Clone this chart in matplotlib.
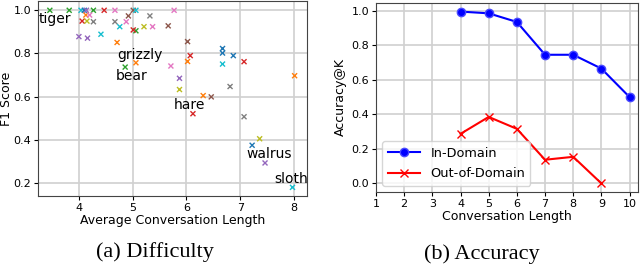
import matplotlib
matplotlib.use("Agg")
import matplotlib.pyplot as plt

# (a) difficulty: average conversation length vs F1 per animal
avg_len = [3.46, 3.82, 4.04, 4.10, 4.14, 4.27, 4.47, 4.67, 5.01, 5.06,
           4.13, 4.20, 4.06, 4.15, 4.27, 4.67, 4.88, 4.76, 4.92, 5.06,
           5.01, 5.21, 5.32, 5.37, 4.00, 4.16, 4.41, 4.71, 4.86, 5.06,
           5.77, 5.66, 6.02, 6.07, 6.02, 5.71, 5.87, 5.87, 6.67, 6.67,
           6.87, 6.67, 7.07, 8.01, 6.81, 6.31, 6.46, 6.12, 7.07, 7.36,
           7.22, 7.46, 7.97]
f1 = [1.0, 1.0, 1.0, 1.0, 1.0, 1.0, 1.0, 1.0, 1.0, 1.0,
      0.978, 0.978, 0.95, 0.95, 0.947, 0.947, 0.947, 0.924, 0.974, 0.905,
      0.909, 0.924, 0.974, 0.924, 0.878, 0.871, 0.889, 0.851, 0.737, 0.757,
      1.0, 0.928, 0.855, 0.79, 0.763, 0.742, 0.685, 0.633, 0.823, 0.802,
      0.79, 0.751, 0.762, 0.697, 0.647, 0.605, 0.599, 0.521, 0.507, 0.405,
      0.375, 0.293, 0.18]
point_colors = ["C2", "C2", "C9", "C0", "C4", "C2", "C3", "C6", "C5", "C9",
                "C1", "C6", "C3", "C8", "C7", "C7", "C6", "C9", "C5", "C2",
                "C3", "C8", "C7", "C6", "C4", "C4", "C9", "C1", "C2", "C1",
                "C6", "C5", "C5", "C3", "C1", "C6", "C4", "C8", "C0", "C0",
                "C0", "C9", "C3", "C1", "C7", "C1", "C5", "C3", "C7", "C8",
                "C0", "C4", "C9"]

animal_names = ["tiger", "grizzly", "bear", "hare", "walrus", "sloth"]
animal_x = [3.26, 4.71, 4.69, 5.77, 7.12, 7.63]
animal_y = [0.96, 0.794, 0.697, 0.563, 0.336, 0.218]

# (b) accuracy vs conversation length
conv_len = [4, 5, 6, 7, 8, 9, 10]
in_domain = [0.995, 0.985, 0.935, 0.745, 0.745, 0.665, 0.50]
out_len = [4, 5, 6, 7, 8, 9]
out_domain = [0.287, 0.385, 0.316, 0.137, 0.154, 0.0]

fig = plt.figure(figsize=(6.4, 2.67), dpi=100)
ax1 = fig.add_axes([38/640, 1 - 196/267, (307-38)/640, (196-1)/267])
ax2 = fig.add_axes([376/640, 1 - 192/267, (638-376)/640, (192-3)/267])

grid_kw = dict(color="#d0d0d0", linewidth=1.2)

ax1.scatter(avg_len, f1, c=point_colors, marker="x", s=13, linewidths=1.0, zorder=3)
for name, x, y in zip(animal_names, animal_x, animal_y):
    ax1.text(x, y, name, fontsize=10, va="center", ha="left", zorder=4)
ax1.set_xlim(3.24, 8.24)
ax1.set_ylim(0.14, 1.043)
ax1.set_xticks([4, 5, 6, 7, 8])
ax1.set_yticks([0.2, 0.4, 0.6, 0.8, 1.0])
ax1.grid(True, **grid_kw)
ax1.set_axisbelow(True)
ax1.set_xlabel("Average Conversation Length", fontsize=9, labelpad=1)
ax1.set_ylabel("F1 Score", fontsize=9)
ax1.yaxis.set_label_coords(-0.092, 0.5)
ax1.tick_params(labelsize=8, length=3, pad=2)

ax2.plot(conv_len, in_domain, color="blue", marker="o", markersize=6,
         markeredgecolor="#4a4aff", label="In-Domain")
ax2.plot(out_len, out_domain, color="red", marker="x", markersize=6,
         label="Out-of-Domain")
ax2.set_xlim(1, 10.3)
ax2.set_xticks(range(1, 11))
ax2.set_yticks([0.0, 0.2, 0.4, 0.6, 0.8, 1.0])
ax2.grid(True, **grid_kw)
ax2.set_axisbelow(True)
ax2.set_xlabel("Conversation Length", fontsize=9, labelpad=1)
ax2.set_ylabel("Accuracy@K", fontsize=9)
ax2.yaxis.set_label_coords(-0.11, 0.5)
ax2.tick_params(labelsize=8, length=3, pad=2)
ax2.legend(loc="lower left", fontsize=9.3, handlelength=2.5, borderpad=0.4,
           labelspacing=0.6)

for ax in (ax1, ax2):
    for s in ax.spines.values():
        s.set_color("#444444")

fig.text(155/640, 1 - 252/267, "(a) Difficulty", ha="center", va="center",
         fontsize=16, family="Liberation Serif")
fig.text(482/640, 1 - 254/267, "(b) Accuracy", ha="center", va="center",
         fontsize=16, family="Liberation Serif")

fig.savefig("out.png", dpi=100)
